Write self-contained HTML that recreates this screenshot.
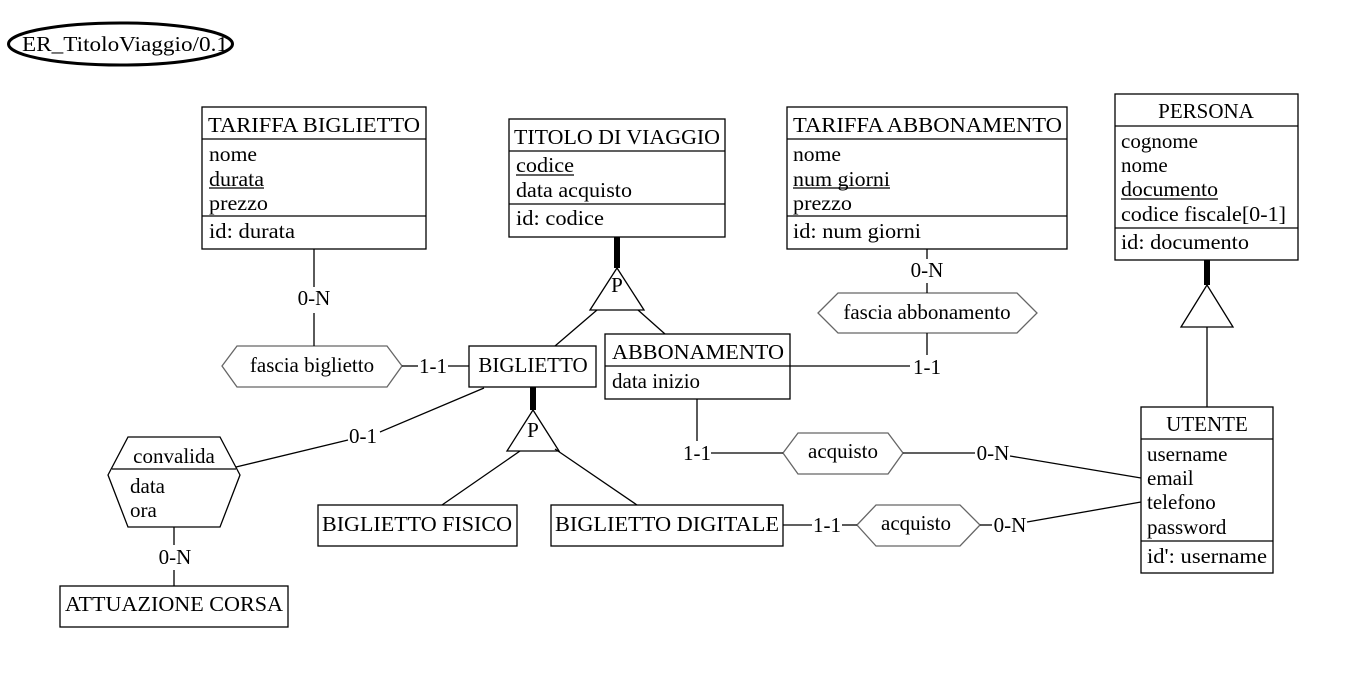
<!DOCTYPE html>
<html><head><meta charset="utf-8"><style>
html,body{margin:0;padding:0;background:#fff;}
svg{display:block;}
text{font-family:"Liberation Serif",serif;font-size:21px;fill:#000;}
.c{text-anchor:middle;}
</style></head><body>
<svg width="1357" height="698" viewBox="0 0 1357 698" xmlns="http://www.w3.org/2000/svg">
<g fill="none" stroke="#000" stroke-width="1.3">
<ellipse cx="120.5" cy="44" rx="112" ry="21" stroke-width="3"/>
<rect x="202" y="107" width="224" height="142"/><line x1="202" y1="139" x2="426" y2="139"/><line x1="202" y1="216" x2="426" y2="216"/>
<rect x="509" y="119" width="216" height="118"/><line x1="509" y1="151" x2="725" y2="151"/><line x1="509" y1="204" x2="725" y2="204"/>
<rect x="787" y="107" width="280" height="142"/><line x1="787" y1="139" x2="1067" y2="139"/><line x1="787" y1="216" x2="1067" y2="216"/>
<rect x="1115" y="94" width="183" height="166"/><line x1="1115" y1="126" x2="1298" y2="126"/><line x1="1115" y1="228" x2="1298" y2="228"/>
<rect x="469" y="346" width="127" height="41"/>
<rect x="605" y="334" width="185" height="65"/><line x1="605" y1="366" x2="790" y2="366"/>
<rect x="1141" y="407" width="132" height="166"/><line x1="1141" y1="439" x2="1273" y2="439"/><line x1="1141" y1="541" x2="1273" y2="541"/>
<rect x="318" y="505" width="199" height="41"/>
<rect x="551" y="505" width="232" height="41"/>
<rect x="60" y="586" width="228" height="41"/>
<polygon points="222,366 237,346 387,346 402,366 387,387 237,387" stroke="#666"/>
<polygon points="818,313 838,293 1017,293 1037,313 1017,333 838,333" stroke="#666"/>
<polygon points="783,453 798,433 888,433 903,453 888,474 798,474" stroke="#666"/>
<polygon points="857,525 876,505 960,505 980,525 960,546 876,546" stroke="#666"/>
<polygon points="108,475 128,437 220,437 240,475 220,527 128,527"/>
<line x1="112" y1="469" x2="236" y2="469"/>
<polygon points="617,268 590,310 644,310"/>
<polygon points="533,410 507,451 559,451"/>
<polygon points="1207,285 1181,327 1233,327"/>
<line x1="314" y1="249" x2="314" y2="287"/><line x1="314" y1="313" x2="314" y2="346"/>
<line x1="402" y1="366" x2="418" y2="366"/><line x1="448" y1="366" x2="469" y2="366"/>
<line x1="597" y1="310" x2="555" y2="346"/><line x1="638" y1="310" x2="665" y2="334"/>
<line x1="520" y1="451" x2="442" y2="505"/><line x1="555" y1="449" x2="637" y2="505"/>
<line x1="927" y1="249" x2="927" y2="259"/><line x1="927" y1="283" x2="927" y2="293"/>
<line x1="927" y1="333" x2="927" y2="355"/>
<line x1="790" y1="366" x2="910" y2="366"/>
<line x1="1207" y1="327" x2="1207" y2="407"/>
<line x1="697" y1="399" x2="697" y2="441"/>
<line x1="711" y1="453" x2="783" y2="453"/>
<line x1="903" y1="453" x2="975" y2="453"/>
<line x1="1010" y1="456" x2="1141" y2="478"/>
<line x1="783" y1="525" x2="812" y2="525"/><line x1="842" y1="525" x2="857" y2="525"/>
<line x1="980" y1="525" x2="992" y2="525"/>
<line x1="1027" y1="522" x2="1141" y2="502"/>
<line x1="236" y1="467" x2="348" y2="440"/><line x1="380" y1="432" x2="484" y2="388"/>
<line x1="174" y1="527" x2="174" y2="545"/><line x1="174" y1="570" x2="174" y2="586"/>
</g>
<g fill="#000">
<rect x="614" y="237" width="6" height="31"/>
<rect x="530" y="387" width="6" height="23"/>
<rect x="1204" y="260" width="6" height="25"/>
</g>
<g stroke="#000" stroke-width="1.2">
<line x1="209" y1="188" x2="264" y2="188"/>
<line x1="516" y1="175" x2="574" y2="175"/>
<line x1="793" y1="188" x2="890" y2="188"/>
<line x1="1121" y1="199" x2="1218" y2="199"/>
</g>
<text x="22" y="51" textLength="206" lengthAdjust="spacingAndGlyphs">ER_TitoloViaggio/0.1</text>
<text x="208" y="132" textLength="212" lengthAdjust="spacingAndGlyphs">TARIFFA BIGLIETTO</text>
<text x="209" y="161" textLength="48" lengthAdjust="spacingAndGlyphs">nome</text><text x="209" y="186" textLength="55" lengthAdjust="spacingAndGlyphs">durata</text><text x="209" y="210" textLength="59" lengthAdjust="spacingAndGlyphs">prezzo</text><text x="209" y="238" textLength="86" lengthAdjust="spacingAndGlyphs">id: durata</text>
<text x="514" y="144" textLength="206" lengthAdjust="spacingAndGlyphs">TITOLO DI VIAGGIO</text>
<text x="516" y="172" textLength="58" lengthAdjust="spacingAndGlyphs">codice</text><text x="516" y="197" textLength="116" lengthAdjust="spacingAndGlyphs">data acquisto</text><text x="516" y="225" textLength="88" lengthAdjust="spacingAndGlyphs">id: codice</text>
<text x="793" y="132" textLength="269" lengthAdjust="spacingAndGlyphs">TARIFFA ABBONAMENTO</text>
<text x="793" y="161" textLength="48" lengthAdjust="spacingAndGlyphs">nome</text><text x="793" y="186" textLength="97" lengthAdjust="spacingAndGlyphs">num giorni</text><text x="793" y="210" textLength="59" lengthAdjust="spacingAndGlyphs">prezzo</text><text x="793" y="238" textLength="128" lengthAdjust="spacingAndGlyphs">id: num giorni</text>
<text x="1206" y="118" class="c">PERSONA</text>
<text x="1121" y="148">cognome</text><text x="1121" y="172">nome</text><text x="1121" y="196" textLength="97" lengthAdjust="spacingAndGlyphs">documento</text><text x="1121" y="221" textLength="165" lengthAdjust="spacingAndGlyphs">codice fiscale[0-1]</text><text x="1121" y="249" textLength="128" lengthAdjust="spacingAndGlyphs">id: documento</text>
<text x="617" y="292" class="c">P</text>
<text x="533" y="437" class="c">P</text>
<text x="314" y="305" class="c">0-N</text>
<text x="312" y="372" class="c">fascia biglietto</text>
<text x="433" y="373" class="c">1-1</text>
<text x="533" y="372" class="c">BIGLIETTO</text>
<text x="612" y="359" textLength="172" lengthAdjust="spacingAndGlyphs">ABBONAMENTO</text>
<text x="612" y="388">data inizio</text>
<text x="927" y="277" class="c">0-N</text>
<text x="927" y="319" class="c">fascia abbonamento</text>
<text x="927" y="374" class="c">1-1</text>
<text x="1207" y="431" class="c">UTENTE</text>
<text x="1147" y="461">username</text><text x="1147" y="485">email</text><text x="1147" y="509">telefono</text><text x="1147" y="534">password</text><text x="1147" y="563" textLength="120" lengthAdjust="spacingAndGlyphs">id': username</text>
<text x="697" y="460" class="c">1-1</text>
<text x="843" y="458" class="c">acquisto</text>
<text x="993" y="460" class="c">0-N</text>
<text x="417" y="531" class="c" textLength="190" lengthAdjust="spacingAndGlyphs">BIGLIETTO FISICO</text>
<text x="667" y="531" class="c" textLength="224" lengthAdjust="spacingAndGlyphs">BIGLIETTO DIGITALE</text>
<text x="827" y="532" class="c">1-1</text>
<text x="916" y="530" class="c">acquisto</text>
<text x="1010" y="532" class="c">0-N</text>
<text x="174" y="463" class="c">convalida</text>
<text x="130" y="493">data</text><text x="130" y="517">ora</text>
<text x="363" y="443" class="c">0-1</text>
<text x="175" y="564" class="c">0-N</text>
<text x="174" y="611" class="c" textLength="218" lengthAdjust="spacingAndGlyphs">ATTUAZIONE CORSA</text>
</svg>
</body></html>
